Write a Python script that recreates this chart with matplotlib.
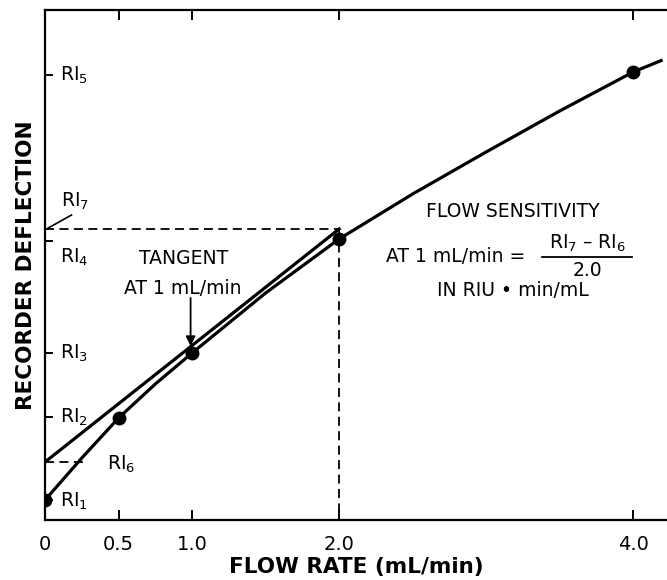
import matplotlib
matplotlib.use("Agg")
import matplotlib.pyplot as plt

plt.rcParams['font.family'] = ['DejaVu Sans']
plt.rcParams['mathtext.default'] = 'regular'

# flow rate (mL/min) and recorder deflection of the measured points
flow = [0, 0.5, 1.0, 2.0, 4.0]
deflection = [2.0, 10.2, 16.7, 28.1, 44.8]

# smooth response curve
curve_x = [0, 0.25, 0.5, 0.75, 1.0, 1.5, 2.0, 2.5, 3.0, 3.5, 4.0, 4.2]
curve_y = [2.0, 6.2, 10.2, 13.6, 16.7, 22.7, 28.1, 32.6, 36.8, 40.9, 44.8, 46.0]

# tangent at 1 mL/min, from RI6 (x=0) to RI7 (x=2)
tangent_x = [0, 2.0]
tangent_y = [5.8, 29.1]

ri_ticks = [2.0, 10.3, 16.7, 27.9, 44.5]   # RI1..RI5
xticks = [0, 0.5, 1.0, 2.0, 4.0]
xtick_labels = ['0', '0.5', '1.0', '2.0', '4.0']

fig = plt.figure(figsize=(6.67, 5.8), dpi=100)
ax = fig.add_axes([0.0675, 0.1034, 0.9325, 0.8794])

ax.plot(curve_x, curve_y, color='black', lw=2.3, solid_capstyle='butt')
ax.plot(tangent_x, tangent_y, color='black', lw=2.3)
ax.plot(flow, deflection, 'o', color='black', ms=9)

# dashed guides
dash = (0, (5, 3))
ax.plot([0, 2.0], [tangent_y[1], tangent_y[1]], color='black', lw=1.3, linestyle=dash)
ax.plot([2.0, 2.0], [tangent_y[1], 0], color='black', lw=1.3, linestyle=dash)
ax.plot([0, 0.27], [tangent_y[0], tangent_y[0]], color='black', lw=1.3, linestyle=dash)

ax.set_xlim(0, 4.23)
ax.set_ylim(0, 51)
ax.spines['right'].set_visible(False)
for s in ['left', 'bottom', 'top']:
    ax.spines[s].set_linewidth(1.6)

ax.set_xticks(xticks)
ax.set_xticklabels(xtick_labels, fontsize=14)
ax.tick_params(axis='x', direction='in', length=7, width=1.4, top=True, pad=11)
ax.set_yticks(ri_ticks)
ax.set_yticklabels([])
ax.tick_params(axis='y', direction='in', length=6, width=1.4)

ax.set_xlabel('FLOW RATE (mL/min)', fontsize=15.5, fontweight='bold', labelpad=2)
ax.set_ylabel('RECORDER DEFLECTION', fontsize=15.5, fontweight='bold', labelpad=3)

fs = 13.5
ax.text(0.1, 44.5, 'RI$_5$', fontsize=fs, va='center')
ax.text(0.11, 31.9, 'RI$_7$', fontsize=fs, va='center')
ax.plot([0.01, 0.18], [29.1, 30.5], color='black', lw=1.2)
ax.text(0.1, 26.3, 'RI$_4$', fontsize=fs, va='center')
ax.text(0.1, 16.7, 'RI$_3$', fontsize=fs, va='center')
ax.text(0.1, 10.3, 'RI$_2$', fontsize=fs, va='center')
ax.text(0.42, 5.6, 'RI$_6$', fontsize=fs, va='center')
ax.text(0.1, 1.9, 'RI$_1$', fontsize=fs, va='center')

ax.text(0.94, 26.2, 'TANGENT', fontsize=fs, ha='center', va='center')
ax.text(0.94, 23.2, 'AT 1 mL/min', fontsize=fs, ha='center', va='center')
ax.annotate('', xy=(0.99, 17.4), xytext=(0.99, 22.2),
            arrowprops=dict(arrowstyle='-|>', color='black', lw=1.3,
                            mutation_scale=14, shrinkA=0, shrinkB=0))

ax.text(3.18, 30.8, 'FLOW SENSITIVITY', fontsize=fs, ha='center', va='center')
ax.text(2.79, 26.4, 'AT 1 mL/min =', fontsize=fs, ha='center', va='center')
ax.text(3.69, 27.7, 'RI$_7$ \u2013 RI$_6$', fontsize=fs, ha='center', va='center')
ax.plot([3.38, 3.99], [26.3, 26.3], color='black', lw=1.3)
ax.text(3.69, 25.0, '2.0', fontsize=fs, ha='center', va='center')
ax.text(3.18, 23.0, 'IN RIU \u2022 min/mL', fontsize=fs, ha='center', va='center')

fig.savefig('out.png', dpi=100)
